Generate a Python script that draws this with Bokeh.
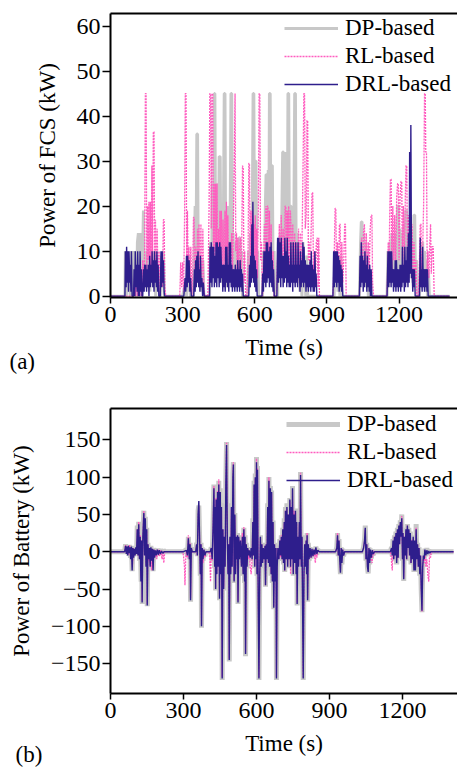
from bokeh.plotting import figure
from bokeh.layouts import column
from bokeh.models import FixedTicker, Label, Range1d, LinearAxis
from bokeh.embed import file_html
from bokeh.resources import INLINE

# ---------------- data (time s, power kW) ----------------
x_ticks = [0, 300, 600, 900, 1200]
ya_ticks = [0, 10, 20, 30, 40, 50, 60]
yb_ticks = [-150, -100, -50, 0, 50, 100, 150]
series_names = ["DP-based", "RL-based", "DRL-based"]

# Panel (a): power of FCS
fcs_dp = [(0,0),(60,0),(62,10),(66,0),(70,10),(74,1),(78,8),(82,0),(86,10),(92,0),(96,10),(100,2),(104,10),(108,0),(112,12),(116,14),(119,2),(122,10),(126,14),(130,3),(134,10),(137,19),(140,5),(144,8),(148,2),(152,10),(156,3),(160,9),(164,1),(168,10),(172,3),(176,8),(180,2),(184,10),(188,0),(192,9),(196,2),(200,6),(204,0),
(208,0),(212,9),(216,2),(220,10),(224,0),
(300,0),(312,3),(316,0),(320,8),(324,1),(328,9),(332,0),
(345,0),(348,8),(352,20),(355,3),(359,36),(362,36),(365,5),(368,10),(372,2),(376,8),(380,1),(384,8),(388,0),
(412,0),(416,12),(420,3),(424,25),(428,10),(432,45),(434,45),(437,10),(440,20),(443,5),(446,25),(449,10),(452,31),(456,31),(459,8),(462,15),(466,3),(470,20),(473,45),(476,45),(479,8),(482,12),(486,2),(490,20),(494,8),(498,20),(501,45),(504,45),(507,10),(510,14),(514,2),(518,12),(522,4),(526,10),(530,2),(535,13),(538,13),(541,2),(545,10),(549,0),(553,0),
(570,0),(574,10),(578,2),(582,14),(586,4),(590,20),(593,45),(596,45),(599,8),(602,30),(605,30),(608,5),(612,10),(616,0),(628,0),
(632,0),(636,10),(640,3),(644,20),(647,27),(650,27),(653,8),(656,28),(658,4),(661,45),(664,45),(667,10),(670,29),(673,29),(676,5),(680,10),(684,0),(692,0),
(695,0),(698,12),(702,3),(706,14),(710,5),(713,20),(716,32),(719,32),(722,10),(725,32),(728,15),(732,20),(735,8),(738,45),(741,45),(744,10),(748,20),(751,20),(754,6),(757,15),(760,3),(763,20),(766,45),(769,45),(772,8),(776,14),(780,3),(784,12),(788,1),(792,10),(796,0),(800,12),(804,2),(808,8),(812,0),(816,9),(820,0),(825,0),
(930,0),(934,10),(938,2),(942,10),(946,1),(950,9),(954,0),(958,9),(962,0),(968,0),
(1035,0),(1040,12),(1043,16.5),(1046,16.5),(1049,5),(1052,14),(1056,3),(1060,12),(1064,2),(1068,10),(1072,0),(1078,0),
(1150,0),(1154,10),(1158,2),(1162,12),(1166,3),(1170,14),(1174,4),(1178,12),(1182,3),(1186,14),(1190,5),(1194,20),(1197,20),(1200,6),(1204,15),(1208,4),(1212,14),(1216,5),(1220,16),(1224,6),(1228,19),(1231,19),(1234,6),(1238,12),(1242,4),(1246,14),(1250,5),(1254,12),(1258,3),(1262,18),(1265,18),(1268,3),(1272,8),(1276,0),
(1285,0),(1290,10),(1294,2),(1298,12),(1302,3),(1306,10),(1310,1),(1314,8),(1318,0),(1322,6),(1326,0),(1410,0)]

fcs_rl = [(0,0),(95,0),(100,4),(104,0),(108,5),(112,0),(118,4),(122,0),(126,6),(130,0),(134,8),(138,2),(142,10),(145,45),(148,45),(151,5),(154,20),(157,8),(160,21),(163,4),(166,21),(169,6),(172,29),(175,8),(178,36.5),(181,36.5),(184,6),(187,17),(190,4),(194,15),(198,3),(202,10),(206,0),(212,8),(216,2),(220,17),(223,17),(226,2),(230,0),
(288,0),(292,7.5),(296,2),(300,7.5),(304,1),(308,17),(311,45),(314,45),(317,6),(320,19),(323,5),(326,11),(330,2),(334,11),(338,0),(342,6),(345,17.5),(348,17.5),(351,4),(354,11),(358,3),(362,15),(365,4),(368,16),(372,3),(376,16),(380,2),(384,15),(388,2),(392,0),
(405,0),(410,20),(413,45),(416,45),(419,15),(422,45),(425,45),(428,10),(431,25),(434,8),(437,25),(440,10),(443,25),(446,5),(449,15),(452,6),(455,19),(458,8),(461,19),(464,5),(468,17),(472,6),(476,19),(479,5),(482,21),(485,8),(488,18),(492,4),(496,12),(500,5),(504,14),(508,6),(512,20),(515,31),(518,45),(521,10),(524,14),(527,4),(530,13),(533,3),(536,10),(540,13),(543,3),(546,13),(549,29),(552,28.5),(555,3),(558,10),(562,0),(568,0),
(572,8),(575,29.5),(578,29.5),(581,5),(584,19),(587,6),(590,19),(593,8),(596,16),(599,4),(602,18),(605,6),(608,15),(611,4),(615,20),(618,45),(621,45),(624,8),(628,12),(632,0),(636,5),(640,16),(643,4),(646,20),(649,8),(652,20),(655,20),(658,6),(661,19),(664,4),(668,16),(672,3),(676,10),(680,0),
(690,0),(694,8),(698,3),(702,16),(706,5),(710,18),(714,6),(718,15),(722,5),(726,20),(729,20),(732,6),(735,19),(738,8),(741,20),(744,6),(748,19),(751,15),(754,5),(758,16),(762,4),(766,14),(770,5),(774,12),(778,3),(782,15),(786,6),(790,14),(794,3),(798,18),(801,30),(804,45),(807,45),(810,15),(814,18),(817,39),(820,39),(823,8),(826,12),(830,3),(834,14),(838,23),(841,23),(844,5),(848,10),(852,3),(856,12),(860,13),(863,2),(866,13),(869,0),
(925,0),(930,8),(934,19.5),(937,19.5),(940,5),(944,12),(948,3),(952,16),(955,16),(958,4),(962,12),(966,3),(970,8),(974,16),(977,16),(980,0),
(1035,0),(1040,8),(1044,13),(1048,5),(1052,14),(1056,16),(1060,6),(1064,14),(1068,4),(1072,12),(1076,5),(1080,15),(1084,18),(1087,18),(1090,3),(1094,0),
(1150,0),(1155,12),(1158,3),(1161,18),(1164,26),(1167,26),(1170,6),(1174,20),(1178,8),(1182,18),(1186,6),(1190,22),(1194,25),(1197,25),(1200,8),(1204,22),(1208,25.5),(1211,25.5),(1214,8),(1218,20),(1222,6),(1226,22),(1229,29),(1232,29),(1235,8),(1238,18),(1242,6),(1246,14),(1250,5),(1254,16),(1258,4),(1262,12),(1266,3),(1270,8),(1274,0),(1280,0),(1284,6),(1288,16),(1291,16),(1294,4),(1298,10),(1302,20),(1306,45),(1309,45),(1311,32),(1314,32),(1317,6),(1320,10),(1324,4),(1328,12),(1331,16),(1334,5),(1338,11),(1342,11),(1346,0),(1410,0)]

fcs_drl = [(0,0),(60,0),(62,10),(65,2),(67,11),(70,3),(72,10),(75,1),(77,10),(80,3),(82,7),(85,1),(87,10),(90,0),(96,0),(98,6),(101,0),(103,10),(106,2),(108,7),(111,1),(113,10),(116,0),(118,7),(121,0),(123,10),(126,1),(128,6),(131,0),(134,0),(137,6),(140,1),(142,7),(145,2),(147,7),(150,1),(152,6),(155,2),(157,7),(160,0),(163,9),(166,2),(168,7),(171,3),(173,10),(176,2),(178,8),(181,1),(183,10),(186,3),(188,8),(191,2),(193,10),(196,1),(198,7),(201,0),(207,0),(210,10),(213,2),(215,10),(218,3),(220,8),(223,1),(225,0),
(305,0),(310,4),(313,1),(316,9),(319,2),(321,9),(324,3),(327,8),(330,1),(333,4),(336,0),
(346,0),(349,6),(352,1),(354,8),(357,2),(359,9),(362,3),(364,10),(367,2),(369,6),(372,1),(374,9),(377,2),(380,4),(383,0),(386,3),(390,0),
(412,0),(414,11),(417,3),(419,12),(422,2),(424,11),(427,4),(429,11),(432,2),(434,9),(437,3),(439,12),(442,2),(444,12),(447,4),(449,11),(452,2),(454,12),(457,3),(459,11),(462,4),(464,7),(467,1),(469,7),(472,2),(474,7),(477,1),(479,11),(482,3),(484,11),(487,2),(489,7),(492,1),(494,12),(497,3),(499,12),(502,2),(504,7),(507,1),(509,6),(512,2),(514,6),(517,1),(519,7),(522,2),(524,6),(527,1),(529,8),(532,2),(534,6),(537,1),(539,8),(542,2),(544,6),(547,1),(549,5),(552,0),(558,0),
(575,0),(578,7),(581,2),(583,9),(586,3),(588,16),(591,4),(592,21),(595,3),(597,9),(600,2),(602,8),(605,1),(607,6),(610,0),(630,0),(633,5),(636,1),(638,10),(641,3),(643,10),(646,2),(648,12),(651,3),(653,12),(656,4),(658,10),(661,2),(663,11),(666,3),(668,12),(671,2),(673,8),(676,1),(678,6),(681,0),
(692,0),(695,13),(698,3),(700,13),(703,4),(705,12),(708,2),(710,13),(713,4),(715,9),(718,2),(720,9),(723,3),(725,13),(728,4),(730,10),(733,2),(735,13),(738,3),(740,9),(743,2),(745,7),(748,2),(750,12),(753,3),(755,7),(758,1),(760,12),(763,3),(765,7),(768,2),(770,12),(773,3),(775,7),(778,2),(780,12),(783,4),(785,7),(788,1),(790,10),(793,2),(795,8),(798,3),(800,12),(803,2),(805,11),(808,3),(810,8),(813,1),(815,7),(818,2),(820,7),(823,1),(825,7),(828,2),(830,8),(833,1),(835,10),(838,2),(840,7),(843,1),(845,6),(848,1),(850,10),(853,2),(855,5),(858,0),
(925,0),(928,10),(931,2),(933,10),(936,3),(938,10),(941,2),(943,10),(946,3),(948,9),(951,1),(953,8),(956,2),(958,7),(961,1),(963,6),(966,0),
(1035,0),(1038,9),(1041,2),(1043,12),(1046,3),(1048,9),(1051,1),(1053,8),(1056,2),(1058,10),(1061,3),(1063,7),(1066,1),(1068,9),(1071,2),(1073,6),(1076,1),(1078,7),(1081,0),(1084,6),(1087,0),
(1150,0),(1154,10),(1157,2),(1159,10),(1162,3),(1164,10),(1167,2),(1169,10),(1172,3),(1174,6),(1177,1),(1179,6),(1182,2),(1184,8),(1187,1),(1189,8),(1192,2),(1194,6),(1197,1),(1199,6),(1202,2),(1204,7),(1207,1),(1209,7),(1212,2),(1214,11),(1217,3),(1219,7),(1222,1),(1224,11),(1227,2),(1229,8),(1232,3),(1234,11),(1237,2),(1239,14),(1242,3),(1244,32),(1247,5),(1249,38),(1252,4),(1254,6),(1257,1),(1259,6),(1262,2),(1264,6),(1267,0),(1272,0),
(1285,0),(1288,13),(1291,2),(1293,6),(1296,1),(1298,11),(1301,2),(1303,6),(1306,1),(1308,6),(1311,2),(1313,6),(1316,1),(1318,6),(1321,0),(1410,0)]

# Panel (b): power of battery
bat_dp = [(0,0),(58,0),(62,10),(66,-3),(70,8),(74,-5),(78,9),(82,-8),(86,8),(89,-26),(92,6),(96,-6),(100,5),(104,-4),(108,8),(110,35),(113,-5),(116,40),(119,-12),(122,25),(126,-40),(128,18),(130,-70),(133,22),(137,55),(140,-6),(143,47),(146,-22),(149,32),(151,-73),(154,12),(157,-12),(160,8),(163,-22),(166,8),(169,-14),(172,5),(175,-26),(178,5),(182,-9),(186,4),(190,-5),(195,4),(200,-4),(206,3),(212,-2),(218,2),(224,0),
(300,0),(312,3),(316,-6),(320,20),(324,-10),(327,12),(329,-67),(332,6),(336,0),(350,0),(354,12),(357,-6),(360,55),(363,62),(366,22),(369,-32),(372,12),(374,-102),(377,6),(380,-12),(384,4),(388,-6),(392,0),
(410,0),(414,6),(418,-12),(422,45),(425,90),(428,-22),(430,65),(432,-52),(434,75),(437,-32),(440,85),(443,-22),(445,95),(448,-65),(451,85),(454,-32),(456,65),(459,-172),(462,32),(465,-52),(468,22),(471,-22),(474,95),(477,147),(480,22),(483,-32),(486,12),(488,-147),(491,22),(494,-32),(497,65),(500,-22),(503,105),(505,120),(508,-42),(511,52),(514,-32),(517,22),(520,-12),(522,25),(524,-70),(527,22),(530,-12),(534,18),(538,-22),(542,22),(545,-32),(548,32),(551,-42),(553,22),(555,-140),(558,12),(561,-22),(564,6),(567,-6),(570,3),(574,-9),(578,6),(582,-12),(585,45),(588,-6),(590,95),(593,-22),(595,105),(598,-12),(600,127),(602,-32),(604,115),(607,-62),(610,-172),(613,-42),(616,22),(619,-22),(622,12),(625,-17),(628,6),(632,-12),(635,9),(637,-47),(640,12),(643,-12),(646,65),(649,-17),(651,100),(654,-22),(657,88),(660,-32),(662,82),(665,-42),(668,42),(671,-77),(674,12),(677,-42),(680,6),(682,-172),(685,-22),(688,6),(692,-12),(696,17),(699,-6),(702,22),(705,-12),(708,32),(711,-17),(714,45),(716,-27),(719,60),(722,-12),(725,65),(728,-22),(731,55),(734,-12),(737,72),(740,-22),(743,65),(746,-12),(748,88),(751,-32),(754,55),(757,-17),(760,58),(763,-32),(765,45),(767,-72),(770,22),(773,-22),(776,42),(779,-12),(781,107),(784,-22),(787,22),(789,-62),(792,-172),(795,-32),(798,12),(801,-22),(804,17),(806,-32),(808,25),(810,-67),(813,12),(816,-12),(820,6),(824,-9),(828,5),(832,-7),(836,4),(840,-5),(844,7),(848,-4),(852,3),(858,0),
(925,0),(930,6),(933,25),(936,-6),(939,17),(942,-12),(945,-30),(948,6),(951,-17),(954,4),(958,-6),(962,0),
(1035,0),(1040,6),(1044,17),(1047,35),(1050,-12),(1053,12),(1056,-22),(1059,-29),(1062,6),(1065,-17),(1068,4),(1072,-9),(1076,3),(1080,-4),(1085,0),
(1150,0),(1155,6),(1158,-6),(1161,17),(1164,-12),(1167,22),(1170,-6),(1173,27),(1176,-17),(1179,32),(1182,-9),(1185,37),(1188,12),(1191,42),(1194,22),(1197,50),(1200,-12),(1202,27),(1205,-39),(1208,22),(1211,-6),(1214,32),(1217,-12),(1220,37),(1223,6),(1226,32),(1229,-6),(1232,27),(1235,-17),(1238,17),(1241,-12),(1244,22),(1247,-27),(1250,17),(1253,-27),(1256,37),(1259,-12),(1262,12),(1265,-22),(1268,6),(1271,-32),(1274,-6),(1277,-52),(1280,-81),(1283,-22),(1286,-6),(1289,-12),(1292,4),(1296,-6),(1300,5),(1304,-4),(1308,3),(1312,-3),(1316,0),(1410,0)]

bat_rl = [(0,0),(58,0),(62,9),(66,-2),(70,7),(74,-4),(78,9),(82,-6),(86,6),(90,-20),(94,5),(98,-5),(104,5),(108,-3),(110,30),(113,-5),(116,40),(119,-8),(122,22),(125,-35),(128,15),(130,-66),(133,20),(137,55),(140,-5),(143,42),(146,-18),(149,28),(151,-70),(154,10),(157,-12),(160,5),(163,-18),(166,5),(169,-25),(172,3),(175,-22),(178,3),(182,-8),(186,2),(190,-10),(195,3),(200,-6),(206,2),(212,-10),(216,1),(219,-15),(223,0),
(296,0),(300,-5),(304,-20),(306,-45),(309,-10),(312,2),(316,-8),(320,22),(324,-10),(327,12),(329,-62),(332,5),(336,0),(350,0),(354,10),(357,-5),(360,45),(363,62),(366,18),(369,-28),(372,10),(374,-98),(377,5),(380,-15),(384,3),(388,-8),(392,0),
(405,0),(408,-10),(411,-40),(414,5),(418,-12),(422,40),(425,88),(428,-18),(430,60),(432,-48),(434,72),(437,-28),(440,82),(443,-18),(445,97),(448,-60),(451,80),(454,-28),(456,58),(459,-168),(462,30),(465,-48),(468,18),(471,-18),(474,88),(477,146),(480,20),(483,-28),(486,10),(488,-143),(491,18),(494,-28),(497,58),(500,-18),(503,98),(505,120),(508,-38),(511,48),(514,-28),(517,20),(520,-10),(522,22),(524,-66),(527,18),(530,-10),(534,15),(538,-18),(542,25),(545,-28),(548,33),(551,-38),(553,18),(555,-135),(558,10),(561,-18),(564,5),(567,-10),(570,2),(574,-20),(578,-30),(582,-10),(585,40),(588,-5),(590,88),(593,-18),(595,98),(598,-10),(600,125),(602,-28),(604,112),(607,-58),(610,-168),(613,-38),(616,18),(619,-18),(622,10),(625,-15),(628,5),(632,-10),(635,8),(637,-45),(640,10),(643,-10),(646,58),(649,-15),(651,100),(654,-18),(657,82),(660,-28),(662,78),(665,-38),(668,38),(671,-73),(674,10),(677,-38),(680,5),(682,-168),(685,-18),(688,5),(692,-10),(696,15),(699,-8),(702,22),(705,-10),(708,28),(711,-15),(714,38),(716,-25),(719,55),(722,-10),(725,58),(728,-18),(731,50),(734,-10),(737,68),(740,-30),(743,58),(746,-10),(748,82),(751,-28),(754,55),(757,-15),(760,52),(763,-28),(765,38),(767,-68),(770,18),(773,-18),(776,38),(779,-10),(781,106),(784,-18),(787,18),(789,-58),(792,-168),(795,-28),(798,10),(801,-18),(804,15),(806,-28),(808,25),(810,-62),(813,10),(816,-10),(820,5),(824,-8),(828,3),(832,-6),(836,3),(840,-10),(842,-15),(845,5),(848,-8),(852,2),(858,0),
(925,0),(930,5),(933,25),(936,-5),(939,15),(942,-8),(945,-25),(948,5),(951,-12),(954,3),(958,-5),(962,0),
(1035,0),(1040,5),(1044,15),(1047,30),(1050,-10),(1053,10),(1056,-18),(1059,-25),(1062,5),(1065,-12),(1068,3),(1072,-10),(1075,-15),(1078,2),(1082,-5),(1085,0),
(1150,0),(1153,-5),(1156,-18),(1158,-25),(1161,10),(1164,-10),(1167,20),(1170,-5),(1173,22),(1176,-12),(1179,28),(1182,-8),(1185,32),(1188,10),(1191,38),(1194,20),(1197,48),(1200,-10),(1202,25),(1205,-35),(1208,20),(1211,-5),(1214,28),(1217,-10),(1220,35),(1223,5),(1226,28),(1229,-5),(1232,25),(1235,-15),(1238,15),(1241,-10),(1244,18),(1247,-22),(1250,15),(1253,-22),(1256,32),(1259,-10),(1262,10),(1265,-20),(1268,5),(1271,-28),(1274,-5),(1277,-48),(1280,-80),(1283,-18),(1286,-5),(1289,-15),(1292,3),(1296,-20),(1300,-10),(1304,-30),(1308,-40),(1311,-5),(1315,-8),(1318,0),(1410,0)]

bat_drl = [(0,0),(58,0),(62,8),(65,-3),(68,7),(71,-5),(74,8),(77,-2),(80,6),(83,-10),(86,7),(89,-25),(92,5),(95,-8),(98,4),(101,-5),(104,6),(107,-3),(110,30),(113,-5),(116,37),(119,-10),(122,20),(125,-40),(128,15),(130,-68),(133,20),(137,52),(140,-5),(143,45),(146,-20),(149,30),(151,-72),(154,10),(157,-10),(160,5),(163,-20),(166,6),(169,-12),(172,4),(175,-25),(178,3),(181,-8),(184,2),(188,-5),(192,3),(196,-4),(200,2),(205,-3),(210,1),(215,-2),(220,0),
(300,0),(312,2),(316,-5),(320,18),(324,-10),(327,10),(329,-65),(332,5),(336,0),(350,0),(354,10),(357,-5),(360,50),(363,68),(366,20),(369,-30),(372,10),(374,-100),(377,5),(380,-10),(384,3),(388,-5),(392,0),
(410,0),(414,5),(418,-10),(422,40),(425,85),(428,-20),(430,60),(432,-50),(434,70),(437,-30),(440,80),(443,-20),(445,90),(448,-63),(451,80),(454,-30),(456,60),(459,-170),(462,30),(465,-50),(468,20),(471,-20),(474,90),(477,143),(480,20),(483,-30),(486,10),(488,-145),(491,20),(494,-30),(497,60),(500,-20),(503,100),(505,117),(508,-40),(511,50),(514,-30),(517,20),(520,-10),(522,22),(524,-68),(527,20),(530,-10),(534,15),(538,-20),(542,20),(545,-30),(548,30),(551,-40),(553,20),(555,-137),(558,10),(561,-20),(564,5),(567,-5),(570,2),(574,-8),(578,5),(582,-10),(585,40),(588,-5),(590,90),(593,-20),(595,100),(598,-10),(600,120),(602,-30),(604,110),(607,-60),(610,-170),(613,-40),(616,20),(619,-20),(622,10),(625,-15),(628,5),(632,-10),(635,8),(637,-45),(640,10),(643,-10),(646,60),(649,-15),(651,95),(654,-20),(657,85),(660,-30),(662,80),(665,-40),(668,40),(671,-75),(674,10),(677,-40),(680,5),(682,-170),(685,-20),(688,5),(692,-10),(696,15),(699,-5),(702,20),(705,-10),(708,30),(711,-15),(714,40),(716,-25),(719,55),(722,-10),(725,60),(728,-20),(731,50),(734,-10),(737,70),(740,-20),(743,60),(746,-10),(748,85),(751,-30),(754,50),(757,-15),(760,55),(763,-30),(765,40),(767,-70),(770,20),(773,-20),(776,40),(779,-10),(781,103),(784,-20),(787,20),(789,-60),(792,-170),(795,-30),(798,10),(801,-20),(804,15),(806,-30),(808,22),(810,-65),(813,10),(816,-10),(820,5),(824,-8),(828,4),(832,-6),(836,3),(840,-4),(844,6),(848,-3),(852,2),(858,0),
(925,0),(930,5),(933,22),(936,-5),(939,15),(942,-10),(945,-28),(948,5),(951,-15),(954,3),(958,-5),(962,0),
(1035,0),(1040,5),(1044,15),(1047,32),(1050,-10),(1053,10),(1056,-20),(1059,-27),(1062,5),(1065,-15),(1068,3),(1072,-8),(1076,2),(1080,-3),(1085,0),
(1150,0),(1155,5),(1158,-5),(1161,15),(1164,-10),(1167,20),(1170,-5),(1173,25),(1176,-15),(1179,30),(1182,-8),(1185,35),(1188,10),(1191,40),(1194,20),(1197,45),(1200,-10),(1202,25),(1205,-37),(1208,20),(1211,-5),(1214,30),(1217,-10),(1220,35),(1223,5),(1226,30),(1229,-5),(1232,25),(1235,-15),(1238,15),(1241,-10),(1244,20),(1247,-25),(1250,15),(1253,-25),(1256,30),(1259,-10),(1262,10),(1265,-20),(1268,5),(1271,-30),(1274,-5),(1277,-50),(1280,-79),(1283,-20),(1286,-5),(1289,-10),(1292,3),(1296,-5),(1300,2),(1304,-3),(1308,1),(1312,-2),(1316,0),(1410,0)]

# ---------------- styling ----------------
FONT = "Liberation Serif"
C_DP = "#c8c8c8"
C_RL = "#ff5cbf"
C_DRL = "#2e1e8c"


def split(pairs):
    return [p[0] for p in pairs], [p[1] for p in pairs]


def style(p, yticks, ylabel):
    p.xaxis.ticker = FixedTicker(ticks=x_ticks)
    p.yaxis.ticker = FixedTicker(ticks=yticks)
    p.xgrid.visible = False
    p.ygrid.visible = False
    p.outline_line_color = None
    p.background_fill_color = "white"
    p.border_fill_color = "white"
    for ax in (p.xaxis[0], p.yaxis[0]):
        ax.axis_line_width = 2
        ax.axis_line_color = "black"
        ax.major_tick_line_width = 1.5
        ax.major_tick_in = 0
        ax.minor_tick_line_color = None
        ax.major_label_text_font = FONT
        ax.major_label_text_font_size = "24px"
        ax.major_label_text_color = "black"
        ax.axis_label_text_font = FONT
        ax.axis_label_text_font_size = "23px"
        ax.axis_label_text_font_style = "normal"
        ax.axis_label_text_color = "black"
    p.xaxis.major_tick_out = 6
    p.yaxis.major_tick_out = 8
    p.xaxis.major_label_standoff = 3
    p.yaxis.major_label_standoff = 2
    p.xaxis.axis_label = "Time (s)"
    p.yaxis.axis_label = ylabel
    p.xaxis.axis_label_standoff = 10
    p.yaxis.axis_label_standoff = 14
    top = LinearAxis(axis_line_width=2, axis_line_color="black",
                     major_tick_line_color=None, minor_tick_line_color=None,
                     major_tick_out=0, major_tick_in=0, minor_tick_out=0, minor_tick_in=0,
                     major_label_text_font_size="0px", major_label_standoff=0,
                     ticker=FixedTicker(ticks=[]))
    p.add_layout(top, "above")


def add_series(p, dp, rl, drl, dp_w):
    t, v = split(dp)
    p.line(t, v, line_color=C_DP, line_width=dp_w, legend_label=series_names[0])
    t, v = split(rl)
    p.line(t, v, line_color=C_RL, line_width=1.3, line_dash="2 1", legend_label=series_names[1])
    t, v = split(drl)
    p.line(t, v, line_color=C_DRL, line_width=1.4, legend_label=series_names[2])


def style_legend(p, loc):
    lg = p.legend[0]
    lg.location = loc
    lg.border_line_color = None
    lg.background_fill_alpha = 0
    lg.label_text_font = FONT
    lg.label_text_font_size = "23px"
    lg.label_text_color = "black"
    lg.glyph_width = 54
    lg.glyph_height = 26
    lg.label_height = 26
    lg.label_standoff = 7
    lg.spacing = 2
    lg.padding = 0
    lg.margin = 0


HA = 374
pa = figure(width=457, height=HA, output_backend="svg", toolbar_location=None,
            x_range=Range1d(0, 1443), y_range=Range1d(-0.3, 62.8),
            min_border_left=106, min_border_right=0, min_border_top=13, min_border_bottom=HA - 13 - 284)
add_series(pa, fcs_dp, fcs_rl, fcs_drl, 3)
style(pa, ya_ticks, "Power of FCS (kW)")
style_legend(pa, (174, 200))
# panel tag in a side panel (not clipped to the frame), placed in canvas coordinates
pa.add_layout(Label(x=9, y=361, x_units="canvas", y_units="canvas", text="(a)",
                    text_font=FONT, text_font_size="23px",
                    text_baseline="middle", text_color="black"), "left")

HB = 771 - HA
pb = figure(width=457, height=HB, output_backend="svg", toolbar_location=None,
            x_range=Range1d(0, 1426), y_range=Range1d(-190, 192),
            min_border_left=110, min_border_right=0, min_border_top=408 - HA,
            min_border_bottom=HB - (408 - HA) - 285)
add_series(pb, bat_dp, bat_rl, bat_drl, 5)
style(pb, yb_ticks, "Power of Battery (kW)")
style_legend(pb, (176, 200))
pb.add_layout(Label(x=15, y=754 - HA, x_units="canvas", y_units="canvas", text="(b)",
                    text_font=FONT, text_font_size="23px",
                    text_baseline="middle", text_color="black"), "above")

layout = column(pa, pb, spacing=0)
open("out.html", "w").write(file_html(layout, INLINE))
